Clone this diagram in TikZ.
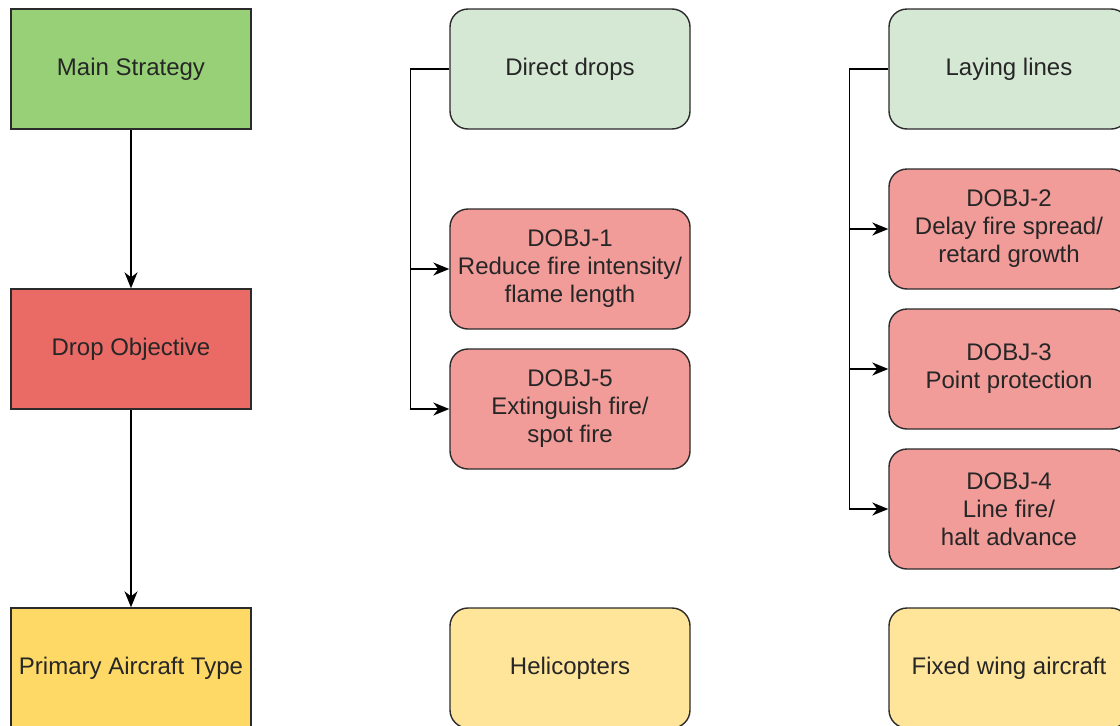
\documentclass[tikz,border=0pt]{standalone}
\usepackage{fontspec}
\setmainfont{Liberation Sans}
\usetikzlibrary{arrows.meta,positioning}

\definecolor{stratgreen}{HTML}{97D077}
\definecolor{objred}{HTML}{EA6B66}
\definecolor{typeyellow}{HTML}{FFD966}
\definecolor{lightgreen}{HTML}{D5E8D4}
\definecolor{lightred}{HTML}{F19C99}
\definecolor{lightyellow}{HTML}{FFE599}
\definecolor{edgegray}{HTML}{2B2B2B}

\tikzset{
  box/.style={draw=edgegray,line width=1.4pt,minimum width=240pt,minimum height=120pt,
    inner sep=0pt,align=center,text=black!85,font=\fontsize{24}{28}\selectfont},
  roundbox/.style={box,rounded corners=18pt},
  arr/.style={-{Stealth[length=16pt,width=13pt,inset=5pt]},line width=1.4pt,draw=black},
}

\begin{document}
\begin{tikzpicture}[x=1pt,y=1pt,on grid]
   \useasboundingbox (0,0) rectangle (1120,-726);
   % left column
   \node[box,fill=stratgreen] (strategy) at (131,-69) {Main Strategy};
   \node[box,fill=objred] (objective) [below=280pt of strategy] {Drop Objective};
   \node[box,fill=typeyellow] (aircraft) [below=319pt of objective] {Primary Aircraft Type};

   % middle column
   \node[roundbox,fill=lightgreen] (direct) [right=439pt of strategy] {Direct drops};
   \node[roundbox,fill=lightred] (dobj1) [below=200pt of direct] {DOBJ-1\\Reduce fire intensity/\\flame length};
   \node[roundbox,fill=lightred] (dobj5) [below=140pt of dobj1] {DOBJ-5\\Extinguish fire/\\spot fire};
   \node[roundbox,fill=lightyellow] (heli) [right=439pt of aircraft] {Helicopters};

   % right column
   \node[roundbox,fill=lightgreen] (laying) [right=439pt of direct] {Laying lines};
   \node[roundbox,fill=lightred] (dobj2) [below=160pt of laying] {DOBJ-2\\Delay fire spread/\\retard growth};
   \node[roundbox,fill=lightred] (dobj3) [below=140pt of dobj2] {DOBJ-3\\Point protection};
   \node[roundbox,fill=lightred] (dobj4) [below=140pt of dobj3] {DOBJ-4\\Line fire/\\halt advance};
   \node[roundbox,fill=lightyellow] (fixed) [right=439pt of heli] {Fixed wing aircraft};

   \coordinate[left=39pt of direct.west] (directbus);
   \coordinate[left=39pt of laying.west] (layingbus);

   \draw[arr] (strategy) -- (objective);
   \draw[arr] (objective) -- (aircraft);

   \draw[arr] (direct.west) -- (directbus) |- (dobj1.west);
   \draw[arr] (directbus) |- (dobj5.west);

   \draw[arr] (laying.west) -- (layingbus) |- (dobj2.west);
   \draw[arr] (layingbus) |- (dobj3.west);
   \draw[arr] (layingbus) |- (dobj4.west);
\end{tikzpicture}
\end{document}
